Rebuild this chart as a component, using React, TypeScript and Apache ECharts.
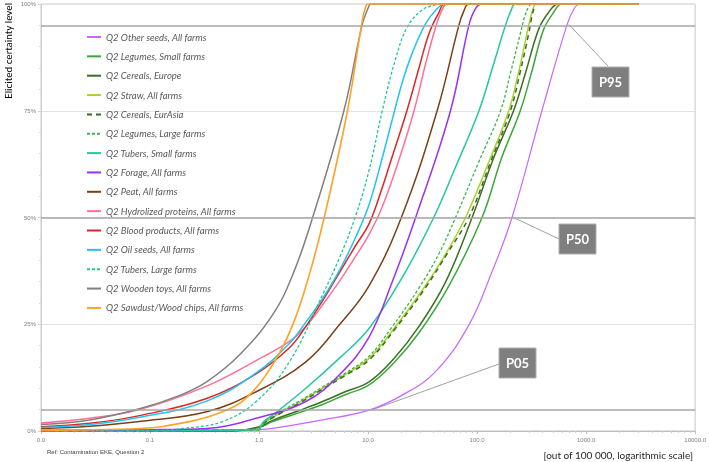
import React, { useEffect, useRef } from "react";
import * as echarts from "echarts";

// ---- data: [value (out of 100 000), elicited certainty %] ----
const seriesNames = [
  "Q2 Other seeds, All farms",
  "Q2 Legumes, Small farms",
  "Q2 Cereals, Europe",
  "Q2 Straw, All farms",
  "Q2 Cereals, EurAsia",
  "Q2 Legumes, Large farms",
  "Q2 Tubers, Small farms",
  "Q2 Forage, All farms",
  "Q2 Peat, All farms",
  "Q2 Hydrolized proteins, All farms",
  "Q2 Blood products, All farms",
  "Q2 Oil seeds, All farms",
  "Q2 Tubers, Large farms",
  "Q2 Wooden toys, All farms",
  "Q2 Sawdust/Wood chips, All farms",
];

const otherSeeds = [[0.01, 0], [0.5, 0.05], [1.0, 0.3], [1.33, 0.6], [3.82, 2.6], [10.2, 4.9], [20.6, 8.4], [41.6, 13.9], [84, 24.8], [137, 37.3], [209, 50], [393, 75], [665, 95], [780, 99], [881, 100], [3000, 100]];
const legumesSmall = [[0.01, 0], [0.57, 0], [1.0, 0.8], [1.33, 2.2], [2.34, 4.3], [3.82, 6.2], [6.16, 8.5], [10.2, 10.8], [17.3, 16], [29.3, 23], [55.1, 34], [111, 50], [168, 64], [249, 75], [316, 84], [407, 94], [503, 98], [600, 100], [3000, 100]];
const cerealsEurope = [[0.01, 0], [0.57, 0], [1.0, 1.0], [1.33, 2.5], [2.34, 4.8], [3.82, 6.9], [6.16, 9.2], [10.2, 11.5], [17.3, 17], [29.3, 24.5], [51.6, 35], [90, 50], [142, 64], [216, 75], [279, 84], [366, 94], [452, 98], [558, 100], [3000, 100]];
const straw = [[0.01, 0], [1.0, 0.3], [1.04, 1.3], [1.33, 3.2], [2.34, 6.7], [3.82, 10], [6.16, 13.2], [10.2, 17], [17.3, 24], [32.5, 33.5], [51.6, 41.5], [78.3, 50], [128, 63], [195, 75], [240, 84], [286, 93], [310, 97], [330, 99.3], [345, 100], [3000, 100]];
const cerealsEurAsia = [[0.01, 0], [1.0, 0.3], [1.04, 1.2], [1.33, 3.1], [2.34, 6.5], [3.82, 9.8], [6.16, 13], [10.2, 16.6], [17.8, 24], [33.5, 33.5], [53, 41.5], [83.9, 50], [133, 63], [202, 75], [248, 84], [297, 93], [318, 97], [336, 99.3], [350, 100], [3000, 100]];
const legumesLarge = [[0.01, 0], [1.0, 0.4], [1.04, 1.4], [1.33, 3.5], [2.34, 7], [3.82, 10.3], [6.16, 13.5], [10.2, 17.5], [16.2, 24], [29.3, 33.5], [44.6, 41.5], [63.4, 50], [103.5, 63], [164, 75], [203, 84], [249, 93], [273, 97], [297, 99.3], [320, 100], [3000, 100]];
const tubersSmall = [[0.01, 0.1], [0.5, 0.2], [1.0, 0.3], [1.04, 1.2], [1.1, 2.2], [1.33, 3.7], [2.69, 10], [5.43, 17], [10.2, 24], [20.6, 36], [40, 50], [63.9, 62], [104, 75], [142, 86], [182, 95], [205, 98.5], [224, 100], [3000, 100]];
const forage = [[0.01, 0.2], [0.1, 0.3], [0.33, 0.6], [0.94, 3.0], [2.69, 6.9], [5.43, 13.1], [10.2, 22], [16.7, 35], [27.3, 50], [57, 75], [84, 95], [97, 99], [111, 100], [3000, 100]];
const peat = [[0.01, 0.6], [0.028, 1.1], [0.08, 2.2], [0.33, 4.5], [0.94, 9.2], [2.69, 16.2], [5.43, 24.8], [10.2, 34], [20.2, 50], [43, 75], [68, 95], [76, 98.5], [84, 100], [3000, 100]];
const hydrolizedProteins = [[0.01, 1.9], [0.028, 3.0], [0.08, 5.0], [0.33, 10.5], [0.94, 16.5], [1.9, 21], [2.69, 24.5], [3.82, 29.5], [5.43, 35], [7.72, 41], [10.2, 46], [13.5, 52.5], [19.2, 63.5], [26.4, 75], [33.7, 86], [41.6, 94.5], [47.5, 98.5], [53, 100], [3000, 100]];
const bloodProducts = [[0.01, 1.0], [0.028, 1.8], [0.08, 3.6], [0.33, 7.6], [0.94, 13.4], [1.9, 19.5], [2.69, 24.5], [3.82, 30.5], [5.43, 37], [7.72, 43.5], [10.2, 48.5], [13.5, 57], [15.6, 62], [22.7, 75], [29.3, 85], [36.1, 93], [44.6, 98], [50.7, 100], [3000, 100]];
const oilSeeds = [[0.01, 0.8], [0.028, 1.5], [0.08, 3.2], [0.33, 7.0], [0.94, 13.6], [1.9, 20.5], [2.69, 25.5], [3.82, 31], [5.43, 37.5], [7.72, 45.5], [10.2, 53], [13.5, 64], [16.7, 73], [20.5, 81.5], [25.4, 88.5], [33.9, 95.5], [41.6, 98.5], [50.7, 100], [3000, 100]];
const tubersLarge = [[0.01, 0], [0.1, 0.1], [0.2, 0.6], [0.46, 2.2], [0.94, 6.9], [1.9, 16.2], [3.82, 31.9], [5.43, 40.4], [7.6, 50], [10.2, 61], [13.5, 75], [17.8, 87], [23, 94.7], [31.4, 98.6], [40, 99.7], [50.7, 100], [3000, 100]];
const woodenToys = [[0.01, 1.5], [0.028, 2.6], [0.08, 5.2], [0.19, 8.4], [0.33, 11.5], [0.66, 17.8], [1.33, 27.2], [2.03, 36.5], [3.1, 50], [6.0, 75], [8.8, 95], [10.0, 99], [10.7, 100], [3000, 100]];
const sawdust = [[0.01, 0.2], [0.08, 0.6], [0.23, 2.2], [0.46, 4.5], [0.76, 7.7], [1.33, 15.5], [2.03, 24.8], [2.88, 36.5], [3.96, 50], [6.47, 75], [8.87, 96.3], [9.5, 99.3], [9.9, 100], [3000, 100]];

const seriesData = [otherSeeds, legumesSmall, cerealsEurope, straw, cerealsEurAsia, legumesLarge, tubersSmall, forage, peat, hydrolizedProteins, bloodProducts, oilSeeds, tubersLarge, woodenToys, sawdust];

const percentileLevels = [95, 50, 5];
const xTickMin = 0.01;
const xTickMax = 10000;

// ---- styles ----
const colors = ["#CC66FF", "#3AA83A", "#3E6E22", "#A8D42A", "#3B6A20", "#3CB44B", "#26C7A0", "#9B30F5", "#7B4016", "#FF7096", "#E02424", "#22C3F5", "#1FC995", "#808080", "#FFA225"];
const dashes: any[] = ["solid", "solid", "solid", "solid", [5, 4], [3, 2], "solid", "solid", "solid", "solid", "solid", "solid", [3, 2], "solid", "solid"];
const widths = [1.2, 1.5, 1.5, 1.5, 1.5, 1.3, 1.5, 1.5, 1.5, 1.5, 1.5, 1.5, 1.3, 1.5, 1.6];

export default function App() {
  const ref = useRef<HTMLDivElement>(null);
  useEffect(() => {
    if (!ref.current) return;
    const chart = echarts.init(ref.current, undefined, { renderer: "svg" });
    const series: any[] = seriesNames.map((name, i) => ({
      name,
      type: "line",
      data: seriesData[i],
      symbol: "none",
      smooth: 0.4,
      lineStyle: { color: colors[i], width: widths[i], type: dashes[i] },
      itemStyle: { color: colors[i] },
      z: 3,
    }));
    series.push({
      name: "percentiles",
      type: "line",
      data: [],
      symbol: "none",
      silent: true,
      z: 1,
      markLine: {
        silent: true,
        symbol: ["none", "none"],
        label: { show: false },
        lineStyle: { color: "#A6A6A6", width: 1.5, type: "solid" },
        data: percentileLevels.map((p) => ({ yAxis: p })),
      },
    });
    const box = (label: string, x: number, y: number) => ({
      type: "group",
      children: [
        { type: "rect", shape: { x, y, width: 37, height: 30 }, style: { fill: "#7F7F7F", stroke: "#B0B0B0", lineWidth: 1 } },
        { type: "text", x: x + 18.5, y: y + 15, style: { text: label, fill: "#FFFFFF", font: "bold 13px Lato", align: "center", verticalAlign: "middle" } },
      ],
    });
    const leader = (x1: number, y1: number, x2: number, y2: number) => ({
      type: "line",
      shape: { x1, y1, x2, y2 },
      style: { stroke: "#A0A0A0", lineWidth: 1 },
    });
    chart.setOption({
      animation: false,
      grid: { left: 41, right: 12, top: 4, bottom: 31, show: true, borderColor: "#C8C8C8", borderWidth: 1 },
      legend: {
        orient: "vertical",
        left: 86,
        top: 30,
        padding: 0,
        itemWidth: 14,
        itemHeight: 14,
        itemGap: 5.35,
        data: seriesNames,
        itemStyle: { opacity: 0 },
        textStyle: { fontFamily: "Lato", fontStyle: "italic", fontSize: 9.5, lineHeight: 14, color: "#595959" },
      },
      xAxis: {
        type: "log",
        logBase: 10,
        min: xTickMin,
        max: xTickMax,
        axisLine: { show: true, lineStyle: { color: "#BFBFBF" } },
        axisTick: { show: true, length: 3, lineStyle: { color: "#BFBFBF" } },
        minorTick: { show: true, splitNumber: 9, length: 2, lineStyle: { color: "#D0D0D0" } },
        splitLine: { show: false },
        minorSplitLine: { show: false },
        axisLabel: {
          formatter: (v: number) => Number(v).toFixed(1),
          fontSize: 6,
          color: "#7F7F7F",
          margin: 6,
          fontFamily: "Liberation Sans",
        },
      },
      yAxis: {
        type: "value",
        min: 0,
        max: 100,
        interval: 25,
        axisLine: { show: true, lineStyle: { color: "#D0D0D0" } },
        axisTick: { show: true, length: 3, lineStyle: { color: "#D0D0D0" } },
        minorTick: { show: true, splitNumber: 5, length: 2, lineStyle: { color: "#D9D9D9" } },
        splitLine: { show: true, lineStyle: { color: "#E3E3E3", width: 1 } },
        axisLabel: { formatter: "{value}%", fontSize: 6, color: "#7F7F7F", margin: 5, fontFamily: "Liberation Sans" },
      },
      series,
      graphic: [
        {
          type: "text",
          x: 8,
          y: 51,
          rotation: Math.PI / 2,
          style: { text: "Elicited certainty level", font: "10px Lato", fill: "#000000", align: "center", verticalAlign: "middle" },
        },
        {
          type: "text",
          x: 693,
          y: 455,
          style: { text: "[out of 100 000, logarithmic scale]", font: "10px Lato", fill: "#262626", align: "right", verticalAlign: "middle" },
        },
        {
          type: "text",
          x: 47,
          y: 452,
          style: { text: "Ref: Contamination EKE, Question 2", font: "6px Liberation Sans", fill: "#404040", align: "left", verticalAlign: "middle" },
        },
        leader(569, 24.5, 608, 66),
        leader(512.5, 217, 559, 239),
        leader(373, 409.5, 499, 364),
        box("P95", 592, 67),
        box("P50", 559, 224),
        box("P05", 499, 348),
      ],
    });
    return () => chart.dispose();
  }, []);
  return <div ref={ref} style={{ position: "fixed", left: 0, top: 0, width: 709, height: 462 }} />;
}
